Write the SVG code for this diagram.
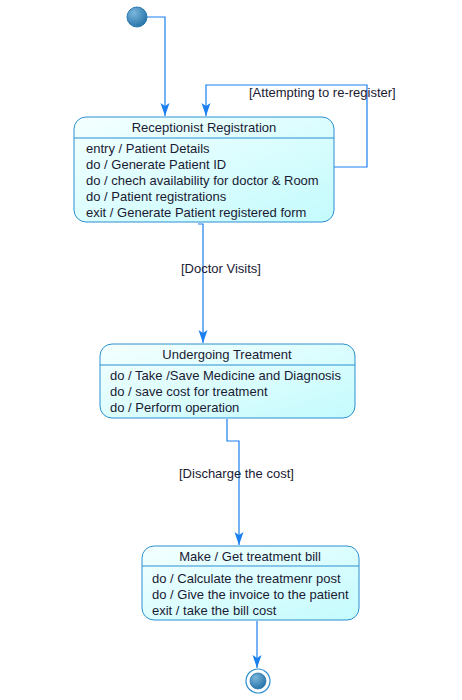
<svg xmlns="http://www.w3.org/2000/svg" width="462" height="700" viewBox="0 0 462 700">
<style>
.st{fill:url(#sg);stroke:#2a8fd0;stroke-width:1}
.sep{stroke:#2a8fd0;stroke-width:1}
.t{font-family:"Liberation Sans",Arial,sans-serif;font-size:13px;fill:#1a1a33}
.c{text-anchor:middle}
.e{fill:none;stroke:#1a7fef;stroke-width:1.2}
</style>
<defs>
<linearGradient id="sg" x1="0" y1="0" x2="1" y2="1">
<stop offset="0" stop-color="#f4ffff"/>
<stop offset="1" stop-color="#c4fbfd"/>
</linearGradient>
<radialGradient id="dot" cx="0.35" cy="0.3" r="0.8">
<stop offset="0" stop-color="#7ab6dc"/>
<stop offset="1" stop-color="#1f6ea3"/>
</radialGradient>
<marker id="ah" viewBox="0 0 14 10" refX="13" refY="5" markerWidth="14" markerHeight="10" orient="auto" markerUnits="userSpaceOnUse">
<path d="M0,0.5 L13,5 L0,9.5 L3,5 Z" fill="#1a7fef"/>
</marker>
</defs>
<g id="connectors">
<path class="e" d="M147,17 H165 V116" marker-end="url(#ah)"/>
<path class="e" d="M334,167 H367 V85 H206 V116" marker-end="url(#ah)"/>
<text class="t" x="249" y="97">[Attempting to re-register]</text>
<path class="e" d="M198,224 H203 V343" marker-end="url(#ah)"/>
<text class="t" x="181" y="273">[Doctor Visits]</text>
<path class="e" d="M227,419 V441 H239 V545" marker-end="url(#ah)"/>
<text class="t" x="179" y="478">[Discharge the cost]</text>
<path class="e" d="M257,621 V668" marker-end="url(#ah)"/>
</g>
<g id="initial">
<circle cx="137" cy="17" r="10" fill="url(#dot)" stroke="#2b7ab0" stroke-width="1"/>
</g>
<g id="receptionist">
<rect class="st" x="74" y="117" width="260" height="105" rx="12"/>
<line class="sep" x1="74" y1="138" x2="334" y2="138"/>
<text class="t c" x="204" y="132">Receptionist Registration</text>
<text class="t" x="86" y="153">entry / Patient Details</text>
<text class="t" x="86" y="169">do / Generate Patient ID</text>
<text class="t" x="86" y="185">do / chech availability for doctor &amp; Room</text>
<text class="t" x="86" y="201">do / Patient registrations</text>
<text class="t" x="86" y="217">exit / Generate Patient registered form</text>
</g>
<g id="treatment">
<rect class="st" x="100" y="344" width="255" height="74" rx="12"/>
<line class="sep" x1="100" y1="365" x2="355" y2="365"/>
<text class="t c" x="227" y="359">Undergoing Treatment</text>
<text class="t" x="110" y="380">do / Take /Save Medicine and Diagnosis</text>
<text class="t" x="110" y="396">do / save cost for treatment</text>
<text class="t" x="110" y="412">do / Perform operation</text>
</g>
<g id="bill">
<rect class="st" x="142" y="546" width="217" height="74" rx="12"/>
<line class="sep" x1="142" y1="566" x2="359" y2="566"/>
<text class="t c" x="250" y="561">Make / Get treatment bill</text>
<text class="t" x="152" y="583">do / Calculate the treatmenr post</text>
<text class="t" x="152" y="599">do / Give the invoice to the patient</text>
<text class="t" x="152" y="615">exit / take the bill cost</text>
</g>
<g id="final">
<circle cx="258" cy="681" r="12" fill="#ffffff" stroke="#2a8fd0" stroke-width="1.2"/>
<circle cx="258" cy="681" r="8" fill="url(#dot)" stroke="#2b7ab0" stroke-width="0.8"/>
</g>
</svg>
